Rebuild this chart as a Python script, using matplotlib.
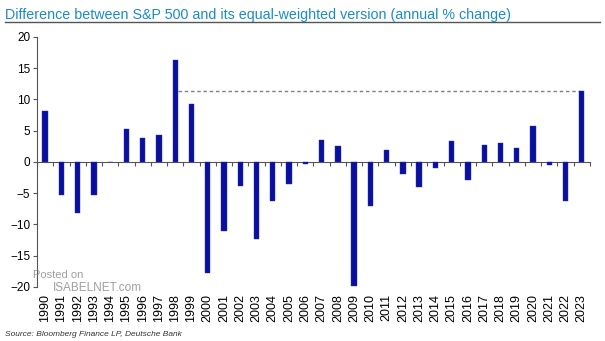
import numpy as np
import matplotlib.pyplot as plt

plt.rcParams['font.family'] = ['Liberation Sans', 'DejaVu Sans']

# annual difference, S&P 500 minus equal-weighted index, in %
years = list(range(1990, 2024))
diff = [8.2, -5.3, -8.2, -5.3, 0.0, 5.2, 3.8, 4.3, 16.3, 9.3,
        -17.8, -11.1, -3.9, -12.3, -6.2, -3.5, -0.4, 3.5, 2.5, -19.8,
        -7.0, 1.9, -1.9, -4.0, -0.9, 3.4, -2.9, 2.7, 3.1, 2.3,
        5.8, -0.5, -6.3, 11.4]
level_2023 = diff[-1]

title_col = '#1a8cc8'
bar_col = '#0a0f9e'

fig = plt.figure(figsize=(6.05, 3.41), dpi=100)
ax = fig.add_axes([0.0612, 0.1584, 0.9138, 0.7331])

x = np.arange(len(years))
ax.bar(x, diff, width=0.33, color=bar_col, edgecolor='#2a34c0', linewidth=0.3, zorder=3)

# dashed reference level from 1998 to 2023
ax.hlines(level_2023, years.index(1998) + 0.2, len(years) - 1, colors='#808080',
          linestyles=(0, (2.5, 2)), linewidth=1.0, zorder=2)

ax.set_xlim(-0.5, len(years) - 0.5)
ax.set_ylim(-20, 20)
ax.set_yticks([-20, -15, -10, -5, 0, 5, 10, 15, 20])
ax.tick_params(axis='y', labelsize=8.5, length=3, width=0.8, color='#555555', pad=2)

for s in ['top', 'right']:
    ax.spines[s].set_visible(False)
ax.spines['left'].set_color('#555555')
ax.spines['bottom'].set_position(('data', 0))
ax.spines['bottom'].set_color('#555555')

# ticks at the category boundaries on the zero line
ax.set_xticks(np.arange(len(years) + 1) - 0.5)
ax.set_xticklabels([])
ax.tick_params(axis='x', length=3, width=0.8, color='#555555')

# year labels along the bottom
sec = ax.secondary_xaxis('bottom')
sec.set_xticks(x)
sec.set_xticklabels([str(y) for y in years], rotation=90, fontsize=9)
sec.tick_params(length=0, pad=5)
sec.spines['bottom'].set_visible(False)

fig.text(0.008, 0.955, 'Difference between S&P 500 and its equal-weighted version (annual % change)',
         fontsize=10.3, color=title_col, va='center', ha='left')
fig.add_artist(plt.Line2D([0.008, 0.992], [0.935, 0.935], color='#555555', linewidth=1.0))

fig.text(0.055, 0.185, 'Posted on', fontsize=8, color='#888888', alpha=0.8)
fig.text(0.088, 0.148, 'ISABELNET.com', fontsize=8.5, color='#888888', alpha=0.8)

fig.text(0.008, 0.015, 'Source: Bloomberg Finance LP, Deutsche Bank', fontsize=6,
         style='italic', color='#333333')

fig.savefig('out.png', dpi=100)
